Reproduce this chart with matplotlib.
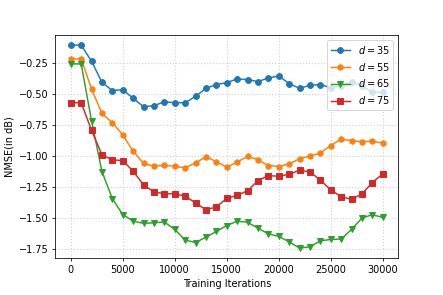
import matplotlib
matplotlib.use("Agg")
import matplotlib.pyplot as plt
from matplotlib.ticker import MultipleLocator

# training iterations, one point every 1000
iters = list(range(0, 31000, 1000))

nmse_d35 = [-0.11, -0.11, -0.24, -0.41, -0.475, -0.468, -0.538, -0.605, -0.597, -0.565,
            -0.573, -0.573, -0.522, -0.457, -0.427, -0.411, -0.382, -0.387, -0.403, -0.374,
            -0.358, -0.419, -0.457, -0.433, -0.427, -0.452, -0.439, -0.406, -0.441, -0.487,
            -0.49]
nmse_d55 = [-0.221, -0.221, -0.463, -0.659, -0.734, -0.831, -0.964, -1.06, -1.084, -1.076,
            -1.084, -1.097, -1.056, -1.008, -1.046, -1.092, -1.05, -1.005, -1.03, -1.078,
            -1.086, -1.065, -1.024, -1.0, -0.979, -0.917, -0.866, -0.877, -0.887, -0.882,
            -0.898]
nmse_d65 = [-0.261, -0.261, -0.721, -1.127, -1.344, -1.473, -1.524, -1.543, -1.538, -1.532,
            -1.592, -1.677, -1.697, -1.653, -1.608, -1.56, -1.525, -1.534, -1.581, -1.627,
            -1.648, -1.691, -1.742, -1.731, -1.683, -1.672, -1.669, -1.592, -1.5, -1.473,
            -1.495]
nmse_d75 = [-0.573, -0.573, -0.796, -0.992, -1.032, -1.038, -1.124, -1.234, -1.29, -1.304,
            -1.306, -1.323, -1.379, -1.433, -1.411, -1.342, -1.317, -1.281, -1.199, -1.159,
            -1.164, -1.148, -1.116, -1.129, -1.194, -1.274, -1.328, -1.35, -1.306, -1.215,
            -1.145]

fig = plt.figure(figsize=(443 / 70, 295 / 70), dpi=70)
ax = fig.add_axes([0.1246, 0.1244, 0.7745, 0.757])

ax.plot(iters, nmse_d35, marker='o', color='tab:blue', label=r'$d=35$')
ax.plot(iters, nmse_d55, marker='h', color='tab:orange', label=r'$d=55$')
ax.plot(iters, nmse_d65, marker='v', color='tab:green', label=r'$d=65$')
ax.plot(iters, nmse_d75, marker='s', color='tab:red', label=r'$d=75$')

ax.yaxis.set_major_locator(MultipleLocator(0.25))
ax.set_xlabel('Training Iterations')
ax.set_ylabel('NMSE(in dB)')
ax.grid(True, linestyle=':', color='lightgray', linewidth=1.2)
ax.legend(loc='upper right')

fig.savefig('out.png', dpi=70)
